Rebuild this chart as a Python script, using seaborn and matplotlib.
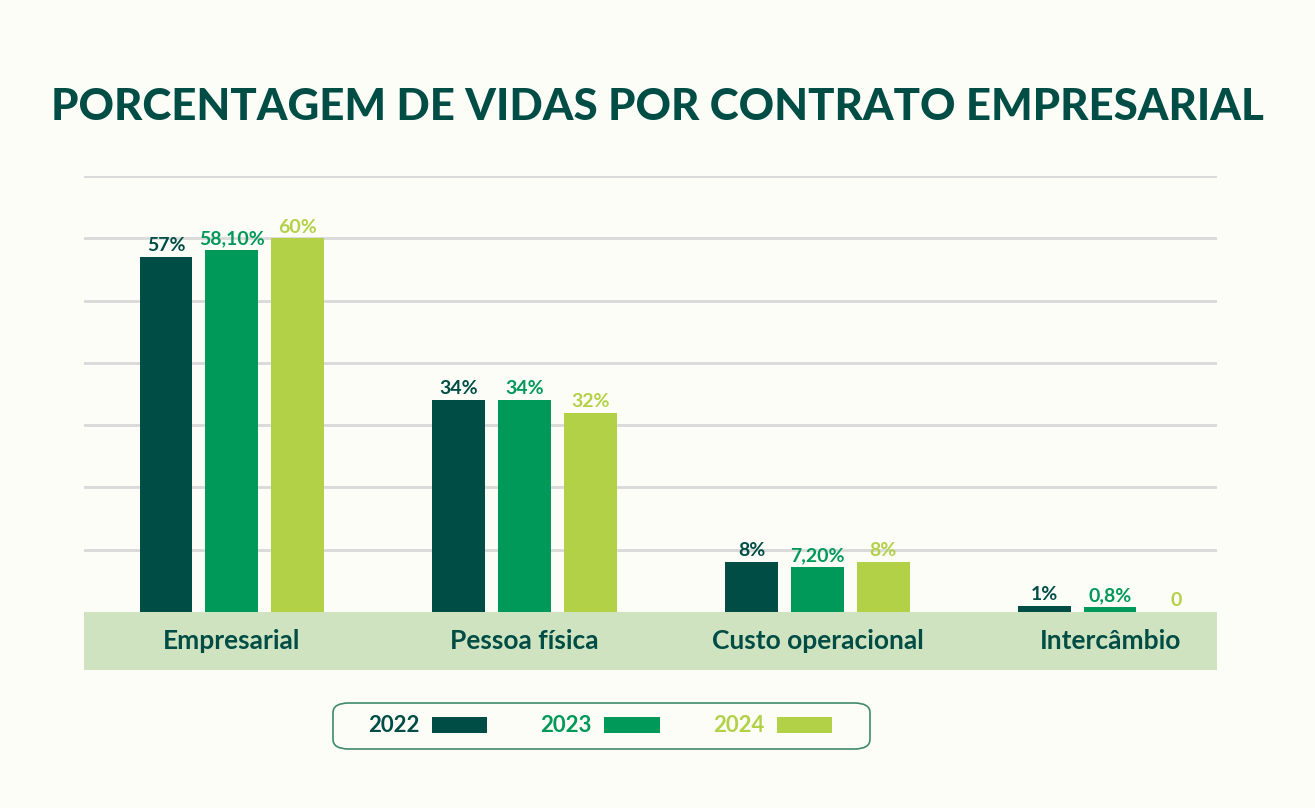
import pandas as pd
import matplotlib.pyplot as plt
import seaborn as sns
from matplotlib.patches import Patch, FancyBboxPatch

# Dados
categorias = ["Empresarial", "Pessoa física", "Custo operacional", "Intercâmbio"]
anos = ["2022", "2023", "2024"]
valores_2022 = [57, 34, 8, 1]
valores_2023 = [58.1, 34, 7.2, 0.8]
valores_2024 = [60, 32, 8, 0]
rotulos_2022 = ["57%", "34%", "8%", "1%"]
rotulos_2023 = ["58,10%", "34%", "7,20%", "0,8%"]
rotulos_2024 = ["60%", "32%", "8%", "0"]

cores = ["#004d46", "#00995a", "#b3d147"]
verde_escuro = "#004d46"
fundo = "#fdfdf8"
faixa = "#d0e3c1"

W, H = 1315, 808

df = pd.DataFrame({
    "categoria": categorias * 3,
    "ano": [a for a in anos for _ in categorias],
    "valor": valores_2022 + valores_2023 + valores_2024,
})

sns.set_theme(style="white")
plt.rcParams["font.family"] = ["Lato", "DejaVu Sans"]

fig = plt.figure(figsize=(W / 100, H / 100), dpi=100, facecolor=fundo)
ax = fig.add_axes([84 / W, 1 - 670 / H, (1217 - 84) / W, (670 - 176) / H])
ax.set_facecolor(fundo)

sns.barplot(data=df, x="categoria", y="valor", hue="ano", palette=cores,
            width=0.675, gap=0.2, ax=ax, legend=False, saturation=1, linewidth=0)

ax.set_ylim(-9.3, 70)
ax.set_xlim(-0.505, 3.365)
ax.axhspan(-9.3, 0, color=faixa, zorder=0, lw=0)
ax.set_yticks(range(10, 80, 10))
ax.yaxis.grid(True, color="#d9d9d9", lw=2)
ax.set_axisbelow(True)
ax.set_yticklabels([])
ax.set_xticks([])
ax.set_xlabel("")
ax.set_ylabel("")
ax.tick_params(left=False, bottom=False)
for s in ax.spines.values():
    s.set_visible(False)

for cont, rot, cor in zip(ax.containers, [rotulos_2022, rotulos_2023, rotulos_2024], cores):
    ax.bar_label(cont, labels=rot, padding=2, color=cor, fontsize=14, fontweight="bold")

for i, c in enumerate(categorias):
    ax.text(i, -4.65, c, ha="center", va="center", fontsize=19, fontweight="bold",
            color=verde_escuro)

fig.text(0.5, 1 - 107 / H, "PORCENTAGEM DE VIDAS POR CONTRATO EMPRESARIAL",
         ha="center", va="center", fontsize=31.5, fontweight="black", color=verde_escuro)

# Caixa da legenda
caixa = FancyBboxPatch((333 / W, 1 - 749 / H), (870 - 333) / W, 46 / H,
                       boxstyle="round,pad=0,rounding_size=0.012",
                       transform=fig.transFigure, facecolor=fundo,
                       edgecolor="#3f8a6a", lw=1.2)
fig.patches.append(caixa)

handles = [Patch(facecolor=c, edgecolor="none") for c in cores]
leg = fig.legend(handles, anos, loc="center", bbox_to_anchor=(600 / W, 1 - 726 / H),
                 ncol=3, markerfirst=False, frameon=False,
                 prop={"size": 16, "weight": "bold"}, handlelength=2.5, handleheight=0.75,
                 columnspacing=2.4, handletextpad=0.55)
for t, c in zip(leg.get_texts(), cores):
    t.set_color(c)

fig.savefig("out.png", dpi=100, facecolor=fundo)
